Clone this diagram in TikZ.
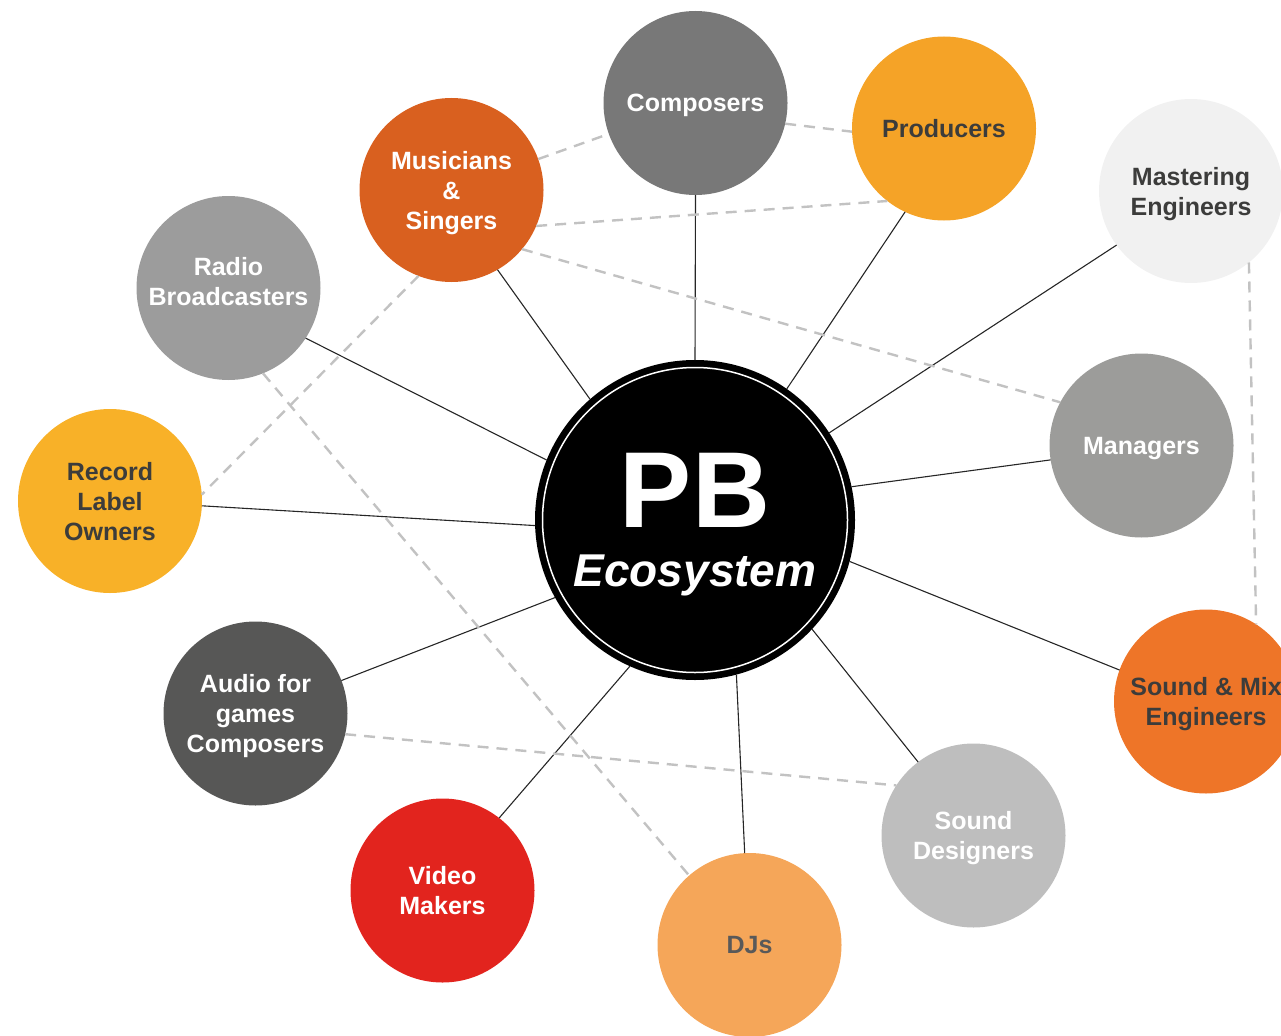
\documentclass[tikz,border=0pt]{standalone}
\usepackage{fontspec}
\setmainfont{Liberation Sans}

\definecolor{compcol}{HTML}{787878}
\definecolor{prodcol}{HTML}{F5A327}
\definecolor{mastcol}{HTML}{F1F1F1}
\definecolor{musicol}{HTML}{D9601F}
\definecolor{radiocol}{HTML}{9C9C9C}
\definecolor{recordcol}{HTML}{F8B128}
\definecolor{managcol}{HTML}{9C9C9A}
\definecolor{mixcol}{HTML}{EE7528}
\definecolor{gamescol}{HTML}{575756}
\definecolor{designcol}{HTML}{BEBEBE}
\definecolor{videocol}{HTML}{E2241E}
\definecolor{djcol}{HTML}{F5A659}
\definecolor{darktext}{HTML}{3C3C3B}
\definecolor{tiecol}{HTML}{C2C2C2}

\begin{document}
\begin{tikzpicture}[x=1pt, y=-1pt,
    role/.style={circle, minimum size=184pt, inner sep=0pt, outer sep=0pt, align=center, text depth=0pt,
                 font=\bfseries\fontsize{25}{30}\selectfont},
    link/.style={line width=1.1pt, draw=black!85},
    tie/.style={line width=2.4pt, draw=tiecol, dash pattern=on 11pt off 8pt}]

    \clip (0,0) rectangle (1281,1035);

    % Draw central circle
    \node[circle, fill=black, minimum size=320pt, inner sep=0pt, outer sep=0pt, text=white, align=center, text depth=0pt,
          font=\bfseries\fontsize{46}{59}\selectfont] (pb) at (695,520)
          {{\fontsize{108}{59}\selectfont PB}\\{\itshape Ecosystem}};
    \draw[white, line width=1.5pt] (pb.center) circle[radius=152.5pt];

    % Draw roles
    \node[role, fill=compcol, text=white] (comp) at (695.5,103) {Composers};
    \node[role, fill=prodcol, text=darktext] (prod) at (944,128.5) {Producers};
    \node[role, fill=mastcol, text=darktext] (mast) at (1191,191) {Mastering\\Engineers};
    \node[role, fill=musicol, text=white] (musi) at (451.5,190) {Musicians\\\&\\Singers};
    \node[role, fill=radiocol, text=white, text depth=14pt] (radio) at (228.5,288) {Radio\\Broadcasters};
    \node[role, fill=recordcol, text=darktext] (record) at (110,501) {Record\\Label\\Owners};
    \node[role, fill=managcol, text=white] (manag) at (1141.5,445.5) {Managers};
    \node[role, fill=mixcol, text=darktext] (mix) at (1206,701.5) {Sound \& Mix\\Engineers};
    \node[role, fill=gamescol, text=white] (games) at (255.5,713.5) {Audio for\\games\\Composers};
    \node[role, fill=designcol, text=white] (design) at (973.5,835.5) {Sound\\Designers};
    \node[role, fill=videocol, text=white] (video) at (442.5,890.5) {Video\\Makers};
    \node[role, fill=djcol, text=black!65] (dj) at (749.5,945) {DJs};

    % Draw links to the centre
    \draw[link] (pb.90) -- (comp.-90);
    \draw[link] (pb.55) -- (prod.245);
    \draw[link] (pb.33.5) -- (mast.216);
    \draw[link] (pb.12) -- (manag.189);
    \draw[link] (pb.-15) -- (mix.160);
    \draw[link] (pb.-43) -- (design.127);
    \draw[link] (pb.-75.5) -- (dj.93.5);
    \draw[link] (pb.246) -- (video.52.5);
    \draw[link] (pb.209) -- (games.21.5);
    \draw[link] (pb.182) -- (record.-3);
    \draw[link] (pb.158) -- (radio.-33);
    \draw[link] (pb.131.5) -- (musi.-60.5);

    % Draw ties between roles
    \draw[tie] (musi) -- (comp);
    \draw[tie] (comp.-13.5) -- (prod.182);
    \draw[tie] (musi.-23) -- (prod.232);
    \draw[tie] (musi.-40.5) -- (manag.152.5);
    \draw[tie] (musi.-111) -- (record.4);
    \draw[tie] (radio.-68) -- (dj.131);
    \draw[tie] (games.-13) -- (design.147);
    \draw[tie] (mast.-51.5) -- (mix.57.5);
\end{tikzpicture}
\end{document}
